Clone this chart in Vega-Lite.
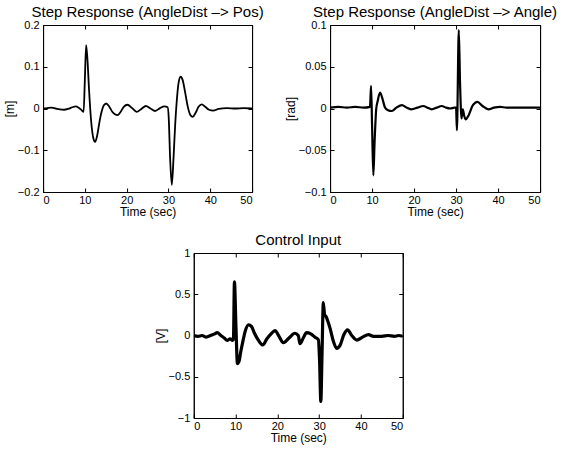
{
  "$schema": "https://vega.github.io/schema/vega-lite/v6.json",
  "padding": {"left": 2, "top": 4, "right": 5, "bottom": 2},
  "background": "white",
  "datasets": {
    "pos": [
      {"t": 0, "v": 0.0}, {"t": 1, "v": 0.001}, {"t": 2, "v": 0.002}, {"t": 3, "v": 0.0}, {"t": 4, "v": -0.002},
      {"t": 5, "v": -0.003}, {"t": 6, "v": -0.001}, {"t": 7, "v": 0.003}, {"t": 7.8, "v": 0.005}, {"t": 8.5, "v": 0.002},
      {"t": 9.2, "v": -0.004}, {"t": 9.7, "v": -0.008}, {"t": 10.0, "v": 0.07}, {"t": 10.3, "v": 0.152}, {"t": 10.6, "v": 0.12},
      {"t": 11.0, "v": 0.045}, {"t": 11.5, "v": -0.03}, {"t": 12.0, "v": -0.07}, {"t": 12.45, "v": -0.08}, {"t": 13.0, "v": -0.062},
      {"t": 13.5, "v": -0.032}, {"t": 14.0, "v": -0.008}, {"t": 14.5, "v": 0.007}, {"t": 15.1, "v": 0.012}, {"t": 15.8, "v": 0.005},
      {"t": 16.5, "v": -0.007}, {"t": 17.2, "v": -0.014}, {"t": 17.8, "v": -0.016}, {"t": 18.5, "v": -0.009}, {"t": 19.3, "v": 0.004},
      {"t": 20.2, "v": 0.009}, {"t": 21.2, "v": 0.002}, {"t": 22.4, "v": -0.008}, {"t": 23.5, "v": -0.001}, {"t": 24.6, "v": 0.006},
      {"t": 25.7, "v": 0.0}, {"t": 26.8, "v": -0.006}, {"t": 28.0, "v": 0.001}, {"t": 29.0, "v": 0.005}, {"t": 29.8, "v": 0.003},
      {"t": 30.05, "v": -0.02}, {"t": 30.4, "v": -0.12}, {"t": 30.8, "v": -0.183}, {"t": 31.2, "v": -0.12}, {"t": 31.6, "v": -0.04},
      {"t": 32.0, "v": 0.02}, {"t": 32.4, "v": 0.06}, {"t": 32.9, "v": 0.076}, {"t": 33.4, "v": 0.068}, {"t": 34.0, "v": 0.038},
      {"t": 34.6, "v": 0.005}, {"t": 35.2, "v": -0.015}, {"t": 35.8, "v": -0.02}, {"t": 36.5, "v": -0.01}, {"t": 37.2, "v": 0.004},
      {"t": 37.95, "v": 0.01}, {"t": 38.8, "v": 0.004}, {"t": 39.7, "v": -0.003}, {"t": 40.7, "v": -0.005}, {"t": 42, "v": -0.001},
      {"t": 44, "v": 0.001}, {"t": 46, "v": 0.0}, {"t": 48, "v": 0.001}, {"t": 50, "v": 0.0}
    ],
    "ang": [
      {"t": 0, "v": 0.001}, {"t": 2, "v": 0.002}, {"t": 4, "v": 0.001}, {"t": 6, "v": 0.002}, {"t": 8, "v": 0.001},
      {"t": 9.5, "v": 0.002}, {"t": 9.76, "v": 0.027}, {"t": 10.0, "v": -0.02}, {"t": 10.3, "v": -0.08}, {"t": 10.6, "v": -0.04},
      {"t": 11.0, "v": 0.0}, {"t": 11.3, "v": 0.008}, {"t": 11.9, "v": 0.019}, {"t": 12.4, "v": 0.013}, {"t": 13.1, "v": 0.001},
      {"t": 13.8, "v": -0.002}, {"t": 14.7, "v": -0.003}, {"t": 15.8, "v": 0.001}, {"t": 17.1, "v": 0.004}, {"t": 18.3, "v": 0.001},
      {"t": 19.4, "v": -0.001}, {"t": 20.8, "v": 0.001}, {"t": 22.2, "v": 0.003}, {"t": 23.2, "v": 0.001}, {"t": 24.2, "v": -0.001},
      {"t": 25.4, "v": 0.001}, {"t": 26.6, "v": 0.003}, {"t": 27.6, "v": 0.001}, {"t": 28.6, "v": 0.0}, {"t": 29.6, "v": 0.001},
      {"t": 30.0, "v": 0.001}, {"t": 30.2, "v": -0.026}, {"t": 30.65, "v": 0.094}, {"t": 30.95, "v": 0.03}, {"t": 31.3, "v": -0.012},
      {"t": 31.6, "v": -0.001}, {"t": 31.9, "v": -0.008}, {"t": 32.3, "v": -0.013}, {"t": 33.0, "v": -0.008}, {"t": 34.0, "v": 0.004},
      {"t": 35.1, "v": 0.008}, {"t": 36.3, "v": 0.003}, {"t": 37.7, "v": -0.001}, {"t": 39.0, "v": 0.001}, {"t": 40.5, "v": 0.002},
      {"t": 42, "v": 0.001}, {"t": 44, "v": 0.001}, {"t": 46, "v": 0.001}, {"t": 48, "v": 0.001}, {"t": 50, "v": 0.001}
    ],
    "ctl": [
      {"t": 0, "v": 0.0}, {"t": 1, "v": -0.01}, {"t": 2, "v": 0.0}, {"t": 3, "v": -0.02}, {"t": 4, "v": 0.0},
      {"t": 5, "v": 0.02}, {"t": 5.6, "v": 0.035}, {"t": 6.5, "v": 0.0}, {"t": 7.3, "v": -0.03}, {"t": 8.0, "v": -0.06},
      {"t": 8.7, "v": -0.04}, {"t": 9.3, "v": -0.06}, {"t": 9.5, "v": -0.04}, {"t": 9.73, "v": 0.65}, {"t": 10.1, "v": 0.1},
      {"t": 10.45, "v": -0.34}, {"t": 10.9, "v": -0.3}, {"t": 11.2, "v": -0.21}, {"t": 11.8, "v": -0.06}, {"t": 12.3, "v": 0.05},
      {"t": 13.1, "v": 0.13}, {"t": 13.8, "v": 0.11}, {"t": 14.5, "v": 0.03}, {"t": 15.5, "v": -0.06}, {"t": 16.5, "v": -0.115},
      {"t": 17.5, "v": -0.04}, {"t": 18.5, "v": 0.02}, {"t": 19.45, "v": 0.06}, {"t": 20.4, "v": -0.01}, {"t": 21.45, "v": -0.087},
      {"t": 22.8, "v": -0.03}, {"t": 24.2, "v": 0.027}, {"t": 25.0, "v": 0.0}, {"t": 25.4, "v": -0.1}, {"t": 26.2, "v": -0.03},
      {"t": 27.0, "v": 0.035}, {"t": 28.0, "v": 0.02}, {"t": 29.0, "v": -0.02}, {"t": 29.8, "v": -0.05}, {"t": 30.1, "v": -0.3},
      {"t": 30.4, "v": -0.8}, {"t": 30.7, "v": -0.2}, {"t": 31.0, "v": 0.4}, {"t": 31.3, "v": 0.25}, {"t": 31.65, "v": 0.23},
      {"t": 32.1, "v": 0.17}, {"t": 32.6, "v": 0.09}, {"t": 33.4, "v": -0.07}, {"t": 34.2, "v": -0.155}, {"t": 35.0, "v": -0.12},
      {"t": 35.9, "v": 0.01}, {"t": 36.8, "v": 0.067}, {"t": 37.8, "v": 0.0}, {"t": 39.0, "v": -0.055}, {"t": 40.4, "v": -0.02},
      {"t": 41.8, "v": 0.01}, {"t": 43, "v": -0.01}, {"t": 45, "v": -0.01}, {"t": 46.5, "v": 0.0}, {"t": 48, "v": -0.01},
      {"t": 49, "v": 0.0}, {"t": 50, "v": -0.01}
    ]
  },
  "vconcat": [
    {
      "hconcat": [
        {
          "title": "Step Response (AngleDist –> Pos)",
          "width": 209, "height": 167,
          "data": {"name": "pos"},
          "layer": [
            {
              "mark": {"type": "line", "color": "black", "strokeWidth": 1.8, "interpolate": "monotone", "strokeJoin": "round", "clip": true},
              "encoding": {
                "x": {"field": "t", "type": "quantitative", "scale": {"domain": [0, 50], "nice": false},
                      "axis": {"title": "Time (sec)", "values": [0, 10, 20, 30, 40, 50], "format": "~r"}},
                "y": {"field": "v", "type": "quantitative", "scale": {"domain": [-0.2, 0.2], "nice": false, "zero": false},
                      "axis": {"title": "[m]", "values": [-0.2, -0.1, 0, 0.1, 0.2], "format": "~r", "labelPadding": 8}}
              }
            },
            {
              "mark": {"type": "line", "opacity": 0},
              "encoding": {
                "x": {"field": "t", "type": "quantitative", "axis": {"orient": "top", "labels": false, "title": null, "values": [0, 10, 20, 30, 40, 50]}},
                "y": {"field": "v", "type": "quantitative", "axis": {"orient": "right", "labels": false, "title": null, "values": [-0.2, -0.1, 0, 0.1, 0.2]}}
              }
            }
          ],
          "resolve": {"axis": {"x": "independent", "y": "independent"}}
        },
        {
          "title": "Step Response (AngleDist –> Angle)",
          "width": 210, "height": 167,
          "data": {"name": "ang"},
          "layer": [
            {
              "mark": {"type": "line", "color": "black", "strokeWidth": 2.2, "interpolate": "monotone", "strokeJoin": "round", "clip": true},
              "encoding": {
                "x": {"field": "t", "type": "quantitative", "scale": {"domain": [0, 50], "nice": false},
                      "axis": {"title": "Time (sec)", "values": [0, 10, 20, 30, 40, 50], "format": "~r"}},
                "y": {"field": "v", "type": "quantitative", "scale": {"domain": [-0.1, 0.1], "nice": false, "zero": false},
                      "axis": {"title": "[rad]", "values": [-0.1, -0.05, 0, 0.05, 0.1], "format": "~r", "labelPadding": 8}}
              }
            },
            {
              "mark": {"type": "line", "opacity": 0},
              "encoding": {
                "x": {"field": "t", "type": "quantitative", "axis": {"orient": "top", "labels": false, "title": null, "values": [0, 10, 20, 30, 40, 50]}},
                "y": {"field": "v", "type": "quantitative", "axis": {"orient": "right", "labels": false, "title": null, "values": [-0.1, -0.05, 0, 0.05, 0.1]}}
              }
            }
          ],
          "resolve": {"axis": {"x": "independent", "y": "independent"}}
        }
      ],
      "spacing": 18
    },
    {
      "title": "Control Input",
      "width": 209, "height": 165,
      "data": {"name": "ctl"},
      "layer": [
        {
          "mark": {"type": "line", "color": "black", "strokeWidth": 3.2, "interpolate": "monotone", "strokeJoin": "round", "clip": true},
          "encoding": {
            "x": {"field": "t", "type": "quantitative", "scale": {"domain": [0, 50], "nice": false},
                  "axis": {"title": "Time (sec)", "values": [0, 10, 20, 30, 40, 50], "format": "~r"}},
            "y": {"field": "v", "type": "quantitative", "scale": {"domain": [-1, 1], "nice": false, "zero": false},
                  "axis": {"title": "[V]", "values": [-1, -0.5, 0, 0.5, 1], "format": "~r", "labelPadding": 8}}
          }
        },
        {
          "mark": {"type": "line", "opacity": 0},
          "encoding": {
            "x": {"field": "t", "type": "quantitative", "axis": {"orient": "top", "labels": false, "title": null, "values": [0, 10, 20, 30, 40, 50]}},
            "y": {"field": "v", "type": "quantitative", "axis": {"orient": "right", "labels": true, "labelExpr": "'   '", "labelPadding": 8, "title": null, "values": [-1, -0.5, 0, 0.5, 1]}}
          }
        }
      ],
      "resolve": {"axis": {"x": "independent", "y": "independent"}}
    }
  ],
  "center": true,
  "spacing": 14,
  "config": {
    "font": "Liberation Sans",
    "view": {"stroke": "black", "strokeWidth": 1},
    "axis": {
      "grid": false,
      "domainColor": "black", "domainWidth": 1,
      "tickColor": "black", "tickSize": -4, "tickWidth": 1,
      "labelColor": "black", "labelFont": "Liberation Sans", "labelFontSize": 11, "labelPadding": 6,
      "titleColor": "black", "titleFont": "Liberation Sans", "titleFontSize": 12, "titleFontWeight": "normal", "titlePadding": 1
    },
    "title": {"fontSize": 15, "fontWeight": "normal", "color": "black", "font": "Liberation Sans", "offset": -1}
  }
}
